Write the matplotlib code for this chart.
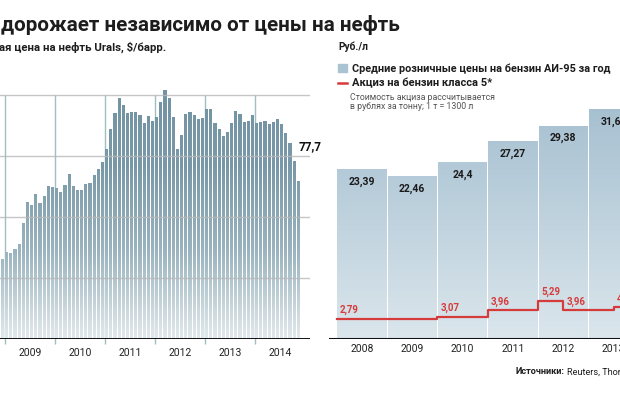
import numpy as np
import matplotlib
matplotlib.use("Agg")
import matplotlib.pyplot as plt
from matplotlib.colors import LinearSegmentedColormap
from matplotlib.path import Path
from matplotlib.patches import Rectangle
from matplotlib.lines import Line2D

plt.rcParams['font.family'] = ['Roboto', 'DejaVu Sans']

# --- data -------------------------------------------------------------------
# Urals monthly average, $/bbl, Nov 2008 .. Nov 2014
urals = [52.9, 39.3,
         42.8, 42.3, 44.4, 47.0, 57.0, 67.4, 66.1, 71.5, 66.9, 70.6, 75.6, 75.1,
         74.6, 72.5, 75.7, 81.3, 75.2, 73.4, 73.4, 76.4, 77.0, 80.8, 83.8, 87.0,
         93.4, 103.3, 111.5, 118.5, 115.2, 111.2, 111.7, 111.7, 110.2, 106.2, 109.8, 107.4,
         109.3, 116.9, 122.6, 118.5, 109.5, 93.6, 100.5, 110.7, 111.7, 110.3, 108.2, 109.0,
         113.1, 113.1, 106.6, 103.3, 100.2, 101.8, 106.2, 112.5, 111.0, 106.7, 107.5, 110.2,
         106.6, 106.7, 107.4, 105.9, 107.0, 108.4, 105.9, 101.3, 96.4, 87.8, 77.7]
urals_first_month = -2          # months relative to Jan 2009
urals_years = [2009, 2010, 2011, 2012, 2013, 2014]
urals_grid = [30, 60, 90, 120]

years = [2008, 2009, 2010, 2011, 2012, 2013]
retail = [23.39, 22.46, 24.4, 27.27, 29.38, 31.63]
# excise on class-5 gasoline, rub/l, by half-year 2008H1 .. 2013H2
excise = [2.79, 2.79, 2.79, 2.79, 3.07, 3.07, 3.96, 3.96, 5.29, 3.96, 3.96, 4.42]

W, H = 620, 395
fig = plt.figure(figsize=(6.2, 3.95), dpi=100)
renderer = fig.canvas.get_renderer()


def rect(l, t, r, b):
    return [l / W, 1 - b / H, (r - l) / W, (b - t) / H]


def px(x, y):
    return x / W, 1 - y / H


def fit(t, width):
    # scale a text so it spans `width` pixels (original uses a narrow face)
    w = t.get_window_extent(renderer).width
    t.set_fontsize(t.get_fontsize() * width / w)
    return t


def gradient_bars(ax, bars, colors, ymax):
    paths = [b.get_path().transformed(b.get_patch_transform()) for b in bars]
    clip = Path.make_compound_path(*paths)
    cmap = LinearSegmentedColormap.from_list("g", colors)
    grad = np.linspace(0, 1, 256).reshape(-1, 1)
    x0, x1 = ax.get_xlim()
    im = ax.imshow(grad, extent=[x0, x1, 0, ymax], origin="lower",
                   aspect="auto", cmap=cmap, zorder=2, interpolation="bilinear")
    im.set_clip_path(clip, ax.transData)


# --- left: Urals monthly ----------------------------------------------------
ax1 = fig.add_axes(rect(-20, 339.3 - 126 * 2.0333, 310, 339.3))
ax1.set_xlim(-6.0, 73.2)
ax1.set_ylim(0, 126)
months = np.arange(len(urals)) + urals_first_month
bars1 = ax1.bar(months, urals, width=0.78, align="edge", color="none",
                edgecolor="none", zorder=2)
gradient_bars(ax1, bars1, ["#e2e9ec", "#9cb5c0", "#7a99a8", "#7293a3"], 126)
ax1.set_xlim(-6.0, 73.2)
ax1.set_ylim(0, 126)

for v in urals_grid:
    ax1.axhline(v, color="#b8b8b8", lw=1.0, alpha=0.8, zorder=3)
for k, yr in enumerate(urals_years):
    gx = 12 * k - 0.11
    ax1.vlines(gx, -2.1, 120, color="#9fbfc1", lw=1.0, zorder=1.5, clip_on=False)
    ax1.annotate(str(yr), xy=(12 * k + 6, 0), xytext=(0, -14), textcoords="offset pixels",
                 ha="center", va="center", fontsize=7.5, color="#222222")
ax1.axhline(0, xmax=(309 + 20) / 330, color="#111111", lw=1.4, zorder=4)
ax1.annotate(f"{urals[-1]:.1f}".replace(".", ","), xy=(months[-1], urals[-1]),
             xytext=(1.5, 35), textcoords="offset pixels", ha="left", va="center",
             fontsize=8.5, fontweight="bold", color="#111111")
ax1.axis("off")

# --- right: retail price and excise ----------------------------------------
ax2 = fig.add_axes(rect(329, 339 - 33 * 7.26, 660, 339))
ax2.set_xlim(-0.656, 5.924)
ax2.set_ylim(0, 33)
xi = np.arange(len(years))
bars2 = ax2.bar(xi, retail, width=0.98, color="none", edgecolor="none", zorder=2)
gradient_bars(ax2, bars2, ["#dbe6ec", "#bfd2de", "#a5bfd0"], 33)
ax2.set_xlim(-0.656, 5.924)
ax2.set_ylim(0, 33)

for x, v in zip(xi, retail):
    ax2.annotate(f"{v:g}".replace(".", ","), xy=(x, v), xytext=(0, -12.5),
                 textcoords="offset pixels", ha="center", va="center",
                 fontsize=7.5, fontweight="bold", color="#1a1a1a", zorder=5)
for x, yr in zip(xi, years):
    ax2.annotate(str(yr), xy=(x, 0), xytext=(0, -10.5), textcoords="offset pixels",
                 ha="center", va="center", fontsize=7.5, color="#222222")

half = np.arange(len(excise)) * 0.5 - 0.5
ex_x = np.append(half, half[-1] + 0.6)
ex_y = np.append(excise, excise[-1])
ax2.step(ex_x, ex_y, where="post", color="#d63b3b", lw=1.6, zorder=4)
prev = None
for x, v in zip(half, excise):
    if v != prev:
        ax2.annotate(f"{v:.2f}".replace(".", ","), xy=(x, v), xytext=(3, 8.5),
                     textcoords="offset pixels", ha="left", va="center",
                     fontsize=7, fontweight="bold", color="#d63b3b", zorder=5)
    prev = v
ax2.axhline(0, xmin=(330 - 329) / 331, color="#111111", lw=2.2, zorder=4)
ax2.axis("off")

# --- texts ------------------------------------------------------------------
fit(fig.text(*px(1, 25), "дорожает независимо от цены на нефть", fontsize=17,
             fontweight="bold", color="#1d1d1d", va="center"), 400)
fit(fig.text(*px(-1, 47), "ая цена на нефть Urals, $/барр.", fontsize=9,
             fontweight="bold", color="#1d1d1d", va="center"), 166)
fit(fig.text(*px(338, 47), "Руб./л", fontsize=9, fontweight="bold",
             color="#1d1d1d", va="center"), 30)

fig.patches.append(Rectangle(px(338, 72), 9 / W, 8 / H, transform=fig.transFigure,
                             color="#a9c3d3", figure=fig))
fit(fig.text(*px(352, 68.5), "Средние розничные цены на бензин АИ-95 за год", fontsize=9,
             fontweight="bold", color="#1d1d1d", va="center"), 256)
fig.lines.append(Line2D([338 / W, 347 / W], [1 - 83 / H, 1 - 83 / H], color="#d63b3b",
                        lw=1.8, transform=fig.transFigure, figure=fig))
fit(fig.text(*px(352, 83), "Акциз на бензин класса 5*", fontsize=9,
             fontweight="bold", color="#1d1d1d", va="center"), 140)
fit(fig.text(*px(350, 97), "Стоимость акциза рассчитывается", fontsize=7.5,
             color="#555555", va="center"), 146)
fit(fig.text(*px(350, 106.5), "в рублях за тонну; 1 т = 1300 л", fontsize=7.5,
             color="#555555", va="center"), 124)

src = fit(fig.text(*px(516, 372), "Источники:", fontsize=7.5, fontweight="bold",
                   color="#1d1d1d", va="center"), 49)
src_end = src.get_window_extent(renderer).x1
fig.text(src_end / W + 2 / W, 1 - 372 / H, "Reuters, Thomson Reuters",
         fontsize=src.get_fontsize(), color="#1d1d1d", va="center")

fig.savefig("out.png", dpi=100)
